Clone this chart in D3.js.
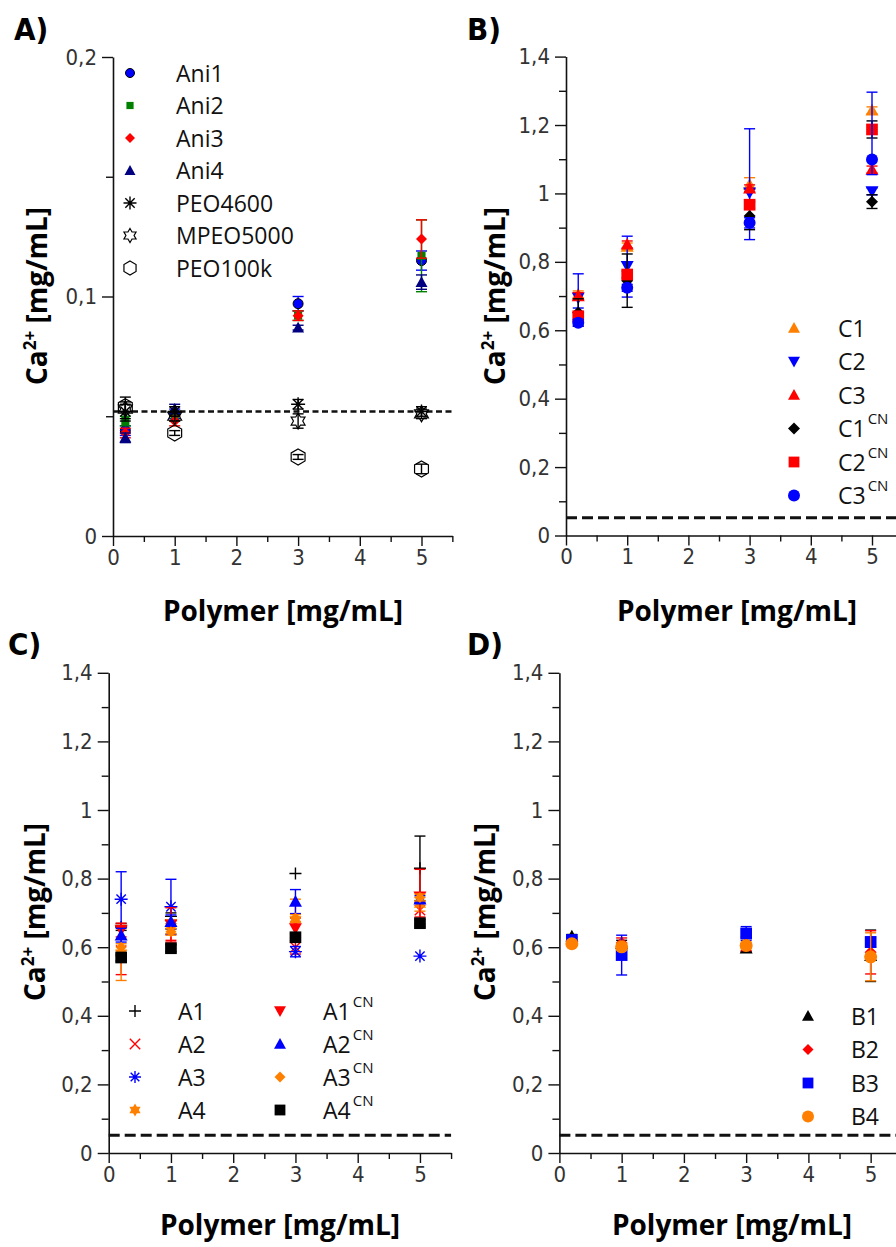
<!DOCTYPE html>
<html><head><meta charset="utf-8">
<script src="https://cdn.jsdelivr.net/npm/d3@7"></script>
<style>body{margin:0;background:#fff} svg{display:block}</style>
</head><body>
<svg id="c" width="896" height="1247"></svg>
<script>
// ---------- DATA ----------
const xVals = [0.2, 1, 3, 5];
const xTicks = [0, 1, 2, 3, 4, 5];
const yTicksA = [0, 0.1, 0.2];
const yTicksBCD = [0, 0.2, 0.4, 0.6, 0.8, 1, 1.2, 1.4];
const blankLevel = 0.052;

// Panel A
const aNames = ["Ani1", "Ani2", "Ani3", "Ani4", "PEO4600", "MPEO5000", "PEO100k"];
const ani1 = [0.044, 0.051, 0.097, 0.115];
const ani1Err = [0.002, 0.002, 0.003, 0.004];
const ani2 = [0.048, 0.050, 0.092, 0.117];
const ani2Err = [0.002, 0.002, 0.002, 0.015];
const ani3 = [0.043, 0.048, 0.092, 0.124];
const ani3Err = [0.002, 0.002, 0.002, 0.008];
const ani4 = [0.041, 0.053, 0.087, 0.106];
const ani4Err = [0.002, 0.002, 0.001, 0.003];
const peo4600 = [0.052, 0.052, 0.055, 0.052];
const peo4600Err = [0.003, 0.002, 0.002, 0.002];
const mpeo5000 = [0.053, 0.050, 0.048, 0.051];
const mpeo5000Err = [0.005, 0.002, 0.003, 0.002];
const peo100k = [0.054, 0.043, 0.033, 0.028];
const peo100kErr = [0.002, 0.001, 0.001, 0.002];

// Panel B
const bNames = ["C1", "C2", "C3", "C1", "C2", "C3"];
const bSup = ["", "", "", "CN", "CN", "CN"];
const c1 = [0.705, 0.845, 1.026, 1.243];
const c1Err = [0.01, 0.01, 0.02, 0.01];
const c2 = [0.695, 0.787, 1.002, 1.006];
const c2ErrLo = [0.03, 0.09, 0.137, 0.01];
const c2ErrHi = [0.07, 0.088, 0.187, 0.01];
const c3 = [0.700, 0.851, 1.015, 1.070];
const c3Err = [0.01, 0.01, 0.01, 0.01];
const c1cn = [0.652, 0.745, 0.934, 0.976];
const c1cnErr = [0.04, 0.078, 0.04, 0.02];
const c2cn = [0.641, 0.763, 0.967, 1.187];
const c2cnErr = [0.01, 0.01, 0.01, 0.025];
const c3cn = [0.622, 0.724, 0.914, 1.099];
const c3cnErrLo = [0.01, 0.01, 0.015, 0.044];
const c3cnErrHi = [0.01, 0.01, 0.015, 0.197];

// Panel C
const cNames = ["A1", "A2", "A3", "A4", "A1", "A2", "A3", "A4"];
const cSup = ["", "", "", "", "CN", "CN", "CN", "CN"];
const a1 = [0.659, 0.690, 0.815, 0.830];
const a1Err = [0.01, 0.01, 0, 0.094];
const a2 = [0.590, 0.650, 0.600, 0.708];
const a2Err = [0.07, 0.03, 0.02, 0.02];
const a3 = [0.740, 0.718, 0.587, 0.574];
const a3Err = [0.08, 0.08, 0.015, 0];
const a4 = [0.583, 0.660, 0.680, 0.725];
const a4Err = [0.08, 0.02, 0.06, 0.02];
const a1cn = [0.650, 0.665, 0.655, 0.747];
const a1cnErr = [0.02, 0.05, 0.03, 0.08];
const a2cn = [0.635, 0.674, 0.733, 0.740];
const a2cnErr = [0.02, 0.02, 0.035, 0.01];
const a3cn = [0.600, 0.645, 0.685, 0.745];
const a3cnErr = [0.01, 0.01, 0.01, 0.01];
const a4cn = [0.570, 0.597, 0.629, 0.670];
const a4cnErr = [0.01, 0.01, 0.01, 0.01];

// Panel D
const dNames = ["B1", "B2", "B3", "B4"];
const b1 = [0.632, 0.610, 0.597, 0.575];
const b1Err = [0.005, 0.01, 0.01, 0.075];
const b2 = [0.615, 0.612, 0.610, 0.585];
const b2Err = [0.008, 0.015, 0.02, 0.063];
const b3 = [0.621, 0.577, 0.640, 0.615];
const b3Err = [0.01, 0.058, 0.02, 0.015];
const b4 = [0.610, 0.601, 0.605, 0.572];
const b4Err = [0.008, 0.01, 0.01, 0.07];

// ---------- DRAWING ----------
const svg = d3.select("#c");
const TICKFONT = "'Liberation Sans Narrow','DejaVu Sans Condensed',sans-serif";
const TEXTFONT = "'Open Sans','Noto Sans',sans-serif";

function symPath(type, r) {
  const p = d3.path();
  if (type === "circle") { p.arc(0, 0, r, 0, 2 * Math.PI); return p.toString(); }
  if (type === "square") { const s = r * 0.9; return `M${-s},${-s}H${s}V${s}H${-s}Z`; }
  if (type === "diamond") return `M0,${-r}L${r},0L0,${r}L${-r},0Z`;
  if (type === "triUp") return `M0,${-r}L${r},${r * 0.8}L${-r},${r * 0.8}Z`;
  if (type === "triDown") return `M0,${r}L${r},${-r * 0.8}L${-r},${-r * 0.8}Z`;
  if (type === "plus") return `M${-r},0H${r}M0,${-r}V${r}`;
  if (type === "cross") { const s = r * 0.8; return `M${-s},${-s}L${s},${s}M${-s},${s}L${s},${-s}`; }
  if (type === "asterisk") { const s = r * 0.72; return `M${-r},0H${r}M0,${-r}V${r}M${-s},${-s}L${s},${s}M${-s},${s}L${s},${-s}`; }
  if (type === "star6") {
    let d = "";
    for (let i = 0; i < 12; i++) {
      const rr = i % 2 === 0 ? r : r * 0.58;
      const a = -Math.PI / 2 + i * Math.PI / 6;
      d += (i === 0 ? "M" : "L") + (rr * Math.cos(a)).toFixed(2) + "," + (rr * Math.sin(a)).toFixed(2);
    }
    return d + "Z";
  }
  if (type === "hexagon") {
    let d = "";
    for (let i = 0; i < 6; i++) {
      const a = -Math.PI / 2 + i * Math.PI / 3;
      d += (i === 0 ? "M" : "L") + (r * Math.cos(a)).toFixed(2) + "," + (r * Math.sin(a)).toFixed(2);
    }
    return d + "Z";
  }
  return "";
}
const strokeOnly = { plus: 1, cross: 1, asterisk: 1 };

function drawMarker(g, s, cx, cy, r) {
  const type = s.sym;
  const el = g.append("path").attr("d", symPath(type, r)).attr("transform", `translate(${cx},${cy})`);
  if (strokeOnly[type]) el.attr("fill", "none").attr("stroke", s.color).attr("stroke-width", 1.4);
  else if (s.hollow) el.attr("fill", "none").attr("stroke", s.color).attr("stroke-width", 1.2);
  else el.attr("fill", s.color).attr("stroke", s.outline || "none").attr("stroke-width", s.outline ? 1 : 0);
}

const fmt = d => d3.format(".2~f")(d).replace(".", ",");

function panel(cfg) {
  const g = svg.append("g");
  const x = d3.scaleLinear().domain([0, 5.5]).range([cfg.x0, cfg.x0 + 5.5 * cfg.xu]);
  const y = d3.scaleLinear().domain([0, cfg.ymax]).range([cfg.y0, cfg.ytop]);

  const gx = g.append("g").attr("transform", `translate(0,${cfg.y0})`);
  gx.call(d3.axisBottom(x).tickValues(d3.range(0.5, 5.51, 1)).tickSize(6).tickSizeOuter(0).tickFormat(""));
  gx.call(g2 => g2.selectAll(".domain").remove());
  const gx2 = g.append("g").attr("transform", `translate(0,${cfg.y0})`);
  gx2.call(d3.axisBottom(x).tickValues(xTicks).tickSize(10).tickSizeOuter(0).tickPadding(3).tickFormat(fmt));
  const gy = g.append("g").attr("transform", `translate(${cfg.x0},0)`);
  gy.call(d3.axisLeft(y).tickValues(cfg.minor).tickSize(7).tickSizeOuter(0).tickFormat(""));
  gy.call(g2 => g2.selectAll(".domain").remove());
  const gy2 = g.append("g").attr("transform", `translate(${cfg.x0},0)`);
  gy2.call(d3.axisLeft(y).tickValues(cfg.yTicks).tickSize(11).tickSizeOuter(0).tickPadding(5).tickFormat(fmt));
  g.selectAll(".domain").attr("stroke", "#111").attr("stroke-width", 1.6);
  g.selectAll(".tick line").attr("stroke", "#111").attr("stroke-width", 1.4);
  g.selectAll(".tick text").attr("font-family", TICKFONT).attr("font-size", 22).attr("fill", "#333");

  g.append("line").attr("x1", x(0)).attr("x2", x(5.5)).attr("y1", y(blankLevel)).attr("y2", y(blankLevel))
    .attr("stroke", "#111").attr("stroke-width", cfg.dashW).attr("stroke-dasharray", cfg.dash);

  cfg.series.forEach(s => {
    const sg = g.append("g");
    s.values.forEach((v, i) => {
      const lo = s.errLo[i], hi = s.errHi[i];
      if (lo === 0 && hi === 0) return;
      const cx = x(xVals[i]);
      const ec = s.errColor || s.color;
      const w = 5.5;
      sg.append("line").attr("x1", cx).attr("x2", cx).attr("y1", y(v - lo)).attr("y2", y(v + hi)).attr("stroke", ec).attr("stroke-width", 1.4);
      sg.append("line").attr("x1", cx - w).attr("x2", cx + w).attr("y1", y(v - lo)).attr("y2", y(v - lo)).attr("stroke", ec).attr("stroke-width", 1.4);
      sg.append("line").attr("x1", cx - w).attr("x2", cx + w).attr("y1", y(v + hi)).attr("y2", y(v + hi)).attr("stroke", ec).attr("stroke-width", 1.4);
    });
    s.values.forEach((v, i) => drawMarker(sg, s, x(xVals[i]), y(v), s.r));
  });

  const legCols = cfg.legCols || 1, legRows = cfg.legRows || cfg.series.length, legColW = cfg.legColW || 0;
  cfg.series.forEach((s, i) => {
    const col = Math.floor(i / legRows);
    const row = i % legRows;
    const lx = cfg.legX + col * legColW, ly = cfg.legY + row * cfg.legDy;
    drawMarker(g, s, lx, ly, s.legR || s.r * 0.85);
    const t = g.append("text").attr("x", lx + cfg.legTextDx).attr("y", ly + 8.5)
      .attr("font-family", TEXTFONT).attr("font-size", 23).attr("fill", "#111");
    t.append("tspan").text(s.name);
    if (s.sup) t.append("tspan").attr("font-size", 15).attr("dy", -13).attr("dx", 2).text(s.sup);
  });

  g.append("text").attr("x", cfg.xTitleX).attr("y", cfg.xTitleY).attr("text-anchor", "middle")
    .attr("font-family", TEXTFONT).attr("font-weight", "bold").attr("font-size", 28).attr("fill", "#000")
    .text("Polymer [mg/mL]");
  const yt = g.append("text").attr("transform", `translate(${cfg.yTitleX},${cfg.yTitleY}) rotate(-90)`)
    .attr("text-anchor", "middle").attr("font-family", TEXTFONT).attr("font-weight", "bold")
    .attr("font-size", 28).attr("fill", "#000");
  yt.append("tspan").text("Ca");
  yt.append("tspan").attr("font-size", 17).attr("dy", -11).text("2+");
  yt.append("tspan").attr("dy", 11).text(" [mg/mL]");

  svg.append("text").attr("x", cfg.labX).attr("y", cfg.labY).attr("font-family", TICKFONT)
    .attr("font-weight", "bold").attr("font-size", 31).attr("fill", "#000").text(cfg.label);
}

function ser(name, sup, sym, color, vals, lo, hi, extra) {
  return Object.assign({ name: name, sup: sup, sym: sym, color: color, values: vals, errLo: lo, errHi: hi || lo }, extra || {});
}

panel({
  label: "A)", labX: 14, labY: 40,
  x0: 113, xu: 61.7, y0: 536, ytop: 57, ymax: 0.2,
  yTicks: yTicksA, minor: [0.05, 0.15],
  dash: "6,3.5", dashW: 2.4,
  xTitleX: 283, xTitleY: 621, yTitleX: 47, yTitleY: 296,
  legX: 130, legY: 73, legDy: 32.5, legTextDx: 46,
  series: [
    ser(aNames[0], "", "circle", "#0000ff", ani1, ani1Err, null, { r: 5, outline: "#000", legR: 4.5 }),
    ser(aNames[1], "", "square", "#008000", ani2, ani2Err, null, { r: 4.5, legR: 4 }),
    ser(aNames[2], "", "diamond", "#ff0000", ani3, ani3Err, null, { r: 5.5, legR: 5 }),
    ser(aNames[3], "", "triUp", "#000080", ani4, ani4Err, null, { r: 6, legR: 5.5 }),
    ser(aNames[4], "", "asterisk", "#000", peo4600, peo4600Err, null, { r: 7, legR: 6.5 }),
    ser(aNames[5], "", "star6", "#000", mpeo5000, mpeo5000Err, null, { r: 8, hollow: true, legR: 7 }),
    ser(aNames[6], "", "hexagon", "#000", peo100k, peo100kErr, null, { r: 8, hollow: true, legR: 7 })
  ]
});

panel({
  label: "B)", labX: 467, labY: 40,
  x0: 566, xu: 61.2, y0: 535.5, ytop: 56.6, ymax: 1.4,
  yTicks: yTicksBCD, minor: d3.range(0.1, 1.4, 0.2),
  dash: "11,5", dashW: 3,
  xTitleX: 737, xTitleY: 621, yTitleX: 505, yTitleY: 296,
  legX: 794, legY: 328, legDy: 33.5, legTextDx: 44,
  series: [
    ser(bNames[0], bSup[0], "triUp", "#ff8000", c1, c1Err, null, { r: 6.5, legR: 6 }),
    ser(bNames[1], bSup[1], "triDown", "#0000ff", c2, c2ErrLo, c2ErrHi, { r: 6.5, legR: 6 }),
    ser(bNames[2], bSup[2], "triUp", "#ff0000", c3, c3Err, null, { r: 6.5, legR: 6 }),
    ser(bNames[3], bSup[3], "diamond", "#000", c1cn, c1cnErr, null, { r: 6, legR: 6 }),
    ser(bNames[4], bSup[4], "square", "#ff0000", c2cn, c2cnErr, null, { r: 6.5, errColor: "#000", legR: 6 }),
    ser(bNames[5], bSup[5], "circle", "#0000ff", c3cn, c3cnErrLo, c3cnErrHi, { r: 6, legR: 6 })
  ]
});

panel({
  label: "C)", labX: 8, labY: 655,
  x0: 108.7, xu: 62.25, y0: 1153, ytop: 672.8, ymax: 1.4,
  yTicks: yTicksBCD, minor: d3.range(0.1, 1.4, 0.2),
  dash: "11,5", dashW: 3,
  xTitleX: 280, xTitleY: 1235, yTitleX: 45, yTitleY: 912,
  legX: 135, legY: 1011, legDy: 33, legTextDx: 43, legCols: 2, legRows: 4, legColW: 145,
  series: [
    ser(cNames[0], cSup[0], "plus", "#000", a1, a1Err, null, { r: 6, legR: 6 }),
    ser(cNames[1], cSup[1], "cross", "#ff0000", a2, a2Err, null, { r: 6.5, legR: 6.5 }),
    ser(cNames[2], cSup[2], "asterisk", "#0000ff", a3, a3Err, null, { r: 6.5, legR: 6 }),
    ser(cNames[3], cSup[3], "star6", "#ff8000", a4, a4Err, null, { r: 7, legR: 6.5 }),
    ser(cNames[4], cSup[4], "triDown", "#ff0000", a1cn, a1cnErr, null, { r: 6.5, legR: 6 }),
    ser(cNames[5], cSup[5], "triUp", "#0000ff", a2cn, a2cnErr, null, { r: 6.5, legR: 6 }),
    ser(cNames[6], cSup[6], "diamond", "#ff8000", a3cn, a3cnErr, null, { r: 5.5, legR: 5.5 }),
    ser(cNames[7], cSup[7], "square", "#000", a4cn, a4cnErr, null, { r: 6.5, legR: 6 })
  ]
});

panel({
  label: "D)", labX: 467, labY: 655,
  x0: 559.4, xu: 62.25, y0: 1153, ytop: 672.8, ymax: 1.4,
  yTicks: yTicksBCD, minor: d3.range(0.1, 1.4, 0.2),
  dash: "11,5", dashW: 3,
  xTitleX: 732, xTitleY: 1235, yTitleX: 495, yTitleY: 912,
  legX: 808, legY: 1016, legDy: 33.5, legTextDx: 43,
  series: [
    ser(dNames[0], "", "triUp", "#000", b1, b1Err, null, { r: 6.5, legR: 6 }),
    ser(dNames[1], "", "diamond", "#ff0000", b2, b2Err, null, { r: 6, legR: 5.5 }),
    ser(dNames[2], "", "square", "#0000ff", b3, b3Err, null, { r: 6.5, legR: 6 }),
    ser(dNames[3], "", "circle", "#ff8000", b4, b4Err, null, { r: 6.5, legR: 6 })
  ]
});
</script>
</body></html>
